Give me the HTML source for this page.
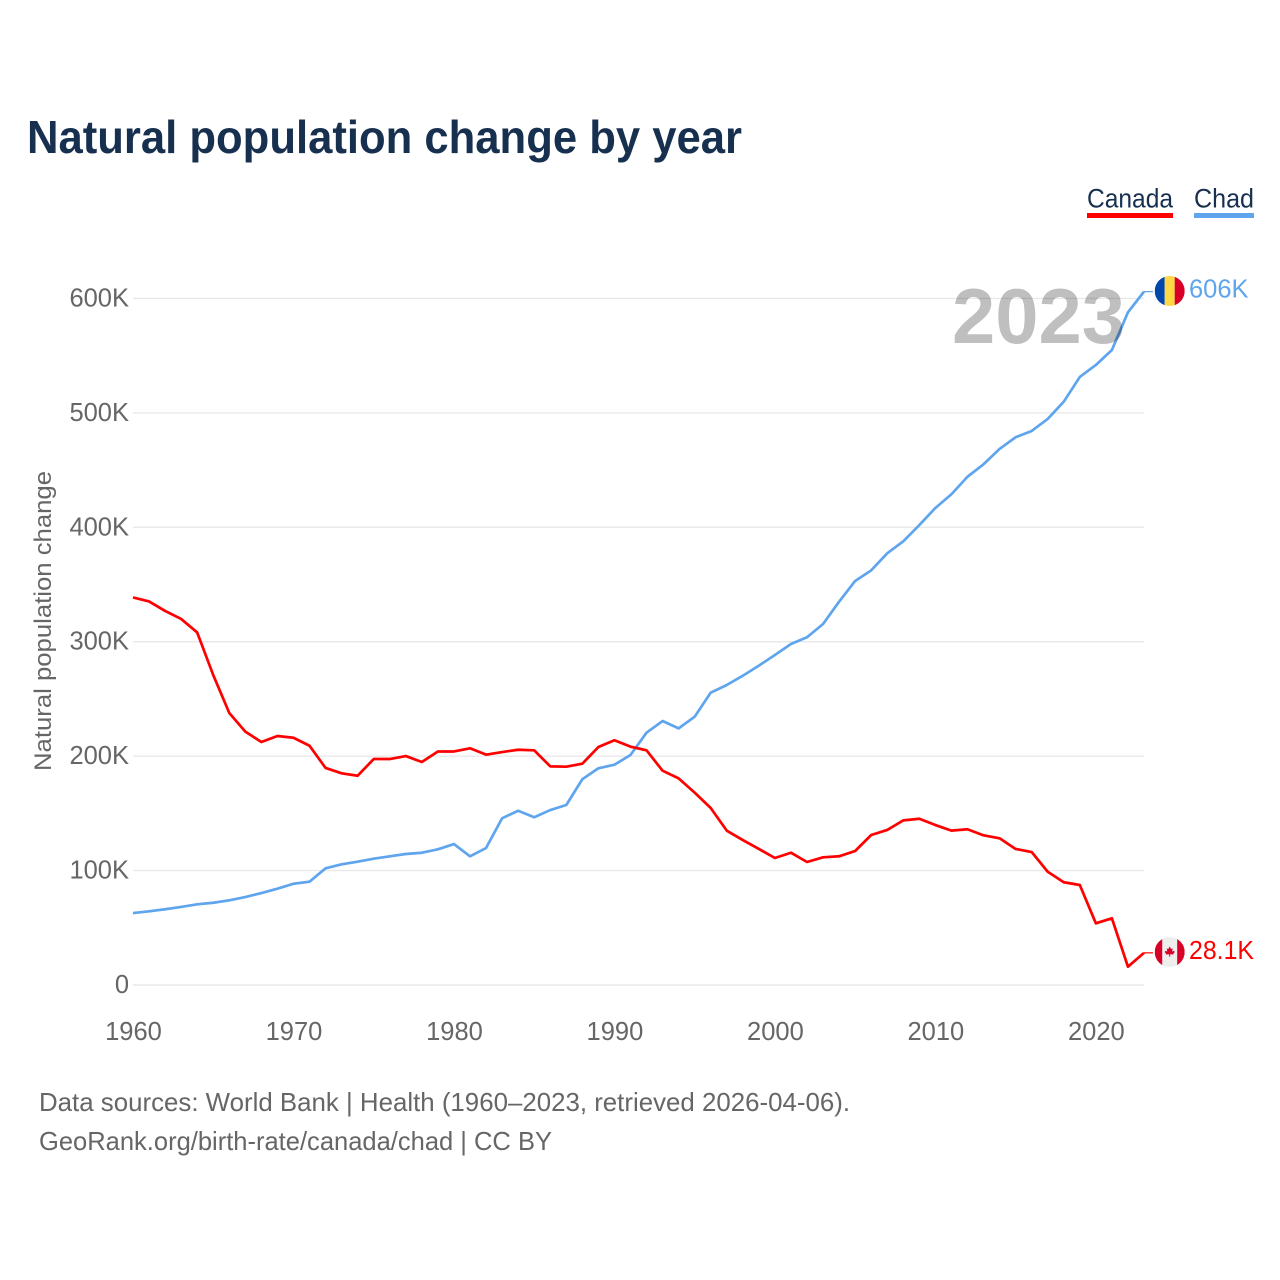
<!DOCTYPE html>
<html lang="en">
<head>
<meta charset="utf-8">
<title>Natural population change by year</title>
<style>
html,body{margin:0;padding:0;background:#fff;width:1280px;height:1280px;overflow:hidden}
svg{display:block;font-family:"Liberation Sans",sans-serif}
</style>
</head>
<body>
<svg id="chart" xmlns="http://www.w3.org/2000/svg" width="1280" height="1280" viewBox="0 0 1280 1280">
  <text x="27" y="153" font-size="46" font-weight="700" fill="#18304f" textLength="715" lengthAdjust="spacingAndGlyphs">Natural population change by year</text>

  <g>
    <g>
      <text x="1087" y="207.5" font-size="26.5" fill="#18304f" textLength="86" lengthAdjust="spacingAndGlyphs">Canada</text>
      <rect x="1087" y="213" width="86" height="5" fill="#ff0000"/>
    </g>
    <g>
      <text x="1194" y="207.5" font-size="26.5" fill="#18304f" textLength="60" lengthAdjust="spacingAndGlyphs">Chad</text>
      <rect x="1194" y="213" width="60" height="5" fill="#5fa5ee"/>
    </g>
  </g>

  <g id="grid"></g>
  <g id="yticks"></g>
  <g id="xticks"></g>

  <text transform="translate(51,771) rotate(-90)" x="0" y="0" font-size="24" fill="#666666" textLength="300" lengthAdjust="spacingAndGlyphs">Natural population change</text>

  <g id="series"></g>

  <text x="952" y="343" font-size="78" font-weight="700" fill="#000000" fill-opacity="0.25" textLength="173" lengthAdjust="spacingAndGlyphs">2023</text>

  <defs>
    <clipPath id="flag-clip"><circle cx="0" cy="0" r="15"/></clipPath>
  </defs>

  <g id="flag-chad">
    <g clip-path="url(#flag-clip)">
      <rect x="-15" y="-15" width="10" height="30" fill="#0047ab"/>
      <rect x="-5" y="-15" width="10" height="30" fill="#ffd644"/>
      <rect x="5" y="-15" width="10" height="30" fill="#d80027"/>
    </g>
  </g>
  <g id="flag-canada">
    <g clip-path="url(#flag-clip)">
      <rect x="-15" y="-15" width="30" height="30" fill="#eeeeee"/>
      <rect x="-15" y="-15" width="7.5" height="30" fill="#d80027"/>
      <rect x="7.5" y="-15" width="7.5" height="30" fill="#d80027"/>
      <path d="M0,-5.5 L1.4,-3 L3,-3.6 L2.4,-0.6 L4.6,-1.2 L5,0.2 L3.6,1.4 L4,2.4 L0.5,2.2 L0.5,4.6 L-0.5,4.6 L-0.5,2.2 L-4,2.4 L-3.6,1.4 L-5,0.2 L-4.6,-1.2 L-2.4,-0.6 L-3,-3.6 L-1.4,-3 Z" fill="#d80027"/>
    </g>
  </g>

  <g id="end-labels"></g>

  <text x="39" y="1111" font-size="26" fill="#666666" textLength="811" lengthAdjust="spacingAndGlyphs">Data sources: World Bank | Health (1960–2023, retrieved 2026-04-06).</text>
  <text x="39" y="1150" font-size="26" fill="#666666" textLength="513" lengthAdjust="spacingAndGlyphs">GeoRank.org/birth-rate/canada/chad | CC BY</text>
</svg>

<script>
const firstYear = 1960;
const lastYear = 2023;
const yTickValues = [0, 100, 200, 300, 400, 500, 600];
const yTickLabels = ["0", "100K", "200K", "300K", "400K", "500K", "600K"];
const xTickYears = [1960, 1970, 1980, 1990, 2000, 2010, 2020];
const canadaValues = [
  338.7, 335.2, 326.9, 319.9, 308.1, 270.9, 237.7, 221.4, 212.4, 217.6,
  216.1, 209.1, 189.7, 185.0, 182.9, 197.5, 197.5, 200.1, 194.9, 204.1,
  204.1, 206.9, 201.3, 203.6, 205.6, 205.1, 191.1, 190.8, 193.4, 208.0,
  213.9, 208.3, 205.1, 187.3, 180.6, 168.1, 154.7, 134.9, 126.7, 118.9,
  111.0, 115.6, 107.5, 111.6, 112.5, 117.1, 131.1, 135.5, 143.9, 145.3,
  139.8, 134.9, 136.1, 130.8, 128.2, 118.9, 116.2, 99.0, 89.8, 87.4,
  53.9, 58.3, 16.0, 28.1
];
const chadValues = [
  62.9, 64.4, 66.2, 68.2, 70.5, 71.9, 74.0, 76.9, 80.4, 84.2,
  88.5, 90.3, 102.0, 105.5, 107.8, 110.4, 112.5, 114.5, 115.6, 118.6,
  123.2, 112.5, 119.7, 145.7, 152.3, 146.6, 152.9, 157.3, 179.8, 189.4,
  192.5, 201.0, 220.5, 230.7, 224.3, 234.5, 255.5, 262.2, 270.3, 279.1,
  288.4, 298.0, 303.9, 315.5, 335.0, 353.1, 362.4, 377.3, 387.8, 402.0,
  416.9, 428.9, 444.2, 455.1, 468.5, 478.7, 484.2, 494.7, 509.8, 531.4,
  541.9, 555.0, 587.9, 606.0
];
const canadaEndLabel = "28.1K";
const chadEndLabel = "606K";

const SVG_NS = "http://www.w3.org/2000/svg";
const plotLeft = 133, plotRight = 1144, zeroY = 985, kiloToPx = 1.1442;
const xScale = function (year) {
  return plotLeft + (year - firstYear) * (plotRight - plotLeft) / (lastYear - firstYear);
};
const yScale = function (value) {
  return zeroY - value * kiloToPx;
};
const make = function (tag, parent) {
  const el = document.createElementNS(SVG_NS, tag);
  parent.appendChild(el);
  return el;
};

const gridGroup = document.getElementById("grid");
const yTickGroup = document.getElementById("yticks");
yTickValues.forEach(function (v, i) {
  const line = make("line", gridGroup);
  
  
  line.setAttribute("x1", plotLeft);
  line.setAttribute("x2", plotRight);
  line.setAttribute("y1", yScale(v));
  line.setAttribute("y2", yScale(v));
  line.setAttribute("stroke", "#e9e9e9");
  line.setAttribute("stroke-width", "1.4");

  const label = make("text", yTickGroup);
  
  
  label.setAttribute("x", 129);
  label.setAttribute("y", yScale(v) + 8);
  label.setAttribute("text-anchor", "end");
  label.setAttribute("font-size", "25.5");
  label.setAttribute("fill", "#666666");
  label.textContent = yTickLabels[i];
});

const xTickGroup = document.getElementById("xticks");
xTickYears.forEach(function (yr) {
  const label = make("text", xTickGroup);
  
  
  label.setAttribute("x", xScale(yr) + 0.5);
  label.setAttribute("y", 1040);
  label.setAttribute("text-anchor", "middle");
  label.setAttribute("font-size", "25.5");
  label.setAttribute("fill", "#666666");
  label.textContent = String(yr);
});

const seriesGroup = document.getElementById("series");
const linePath = function (values) {
  return values.map(function (v, i) {
    return (i ? "L" : "M") + xScale(firstYear + i).toFixed(2) + "," + yScale(v).toFixed(2);
  }).join(" ");
};

const chadLine = make("path", seriesGroup);


chadLine.setAttribute("d", linePath(chadValues));
chadLine.setAttribute("fill", "none");
chadLine.setAttribute("stroke", "#5fa5ee");
chadLine.setAttribute("stroke-width", "2.7");
chadLine.setAttribute("stroke-linejoin", "round");

const canadaLine = make("path", seriesGroup);


canadaLine.setAttribute("d", linePath(canadaValues));
canadaLine.setAttribute("fill", "none");
canadaLine.setAttribute("stroke", "#ff0000");
canadaLine.setAttribute("stroke-width", "2.7");
canadaLine.setAttribute("stroke-linejoin", "round");

const chadEndY = yScale(chadValues[chadValues.length - 1]);
const canadaEndY = yScale(canadaValues[canadaValues.length - 1]);

const chadConnector = make("line", seriesGroup);


chadConnector.setAttribute("x1", plotRight);
chadConnector.setAttribute("x2", 1153);
chadConnector.setAttribute("y1", chadEndY);
chadConnector.setAttribute("y2", chadEndY);
chadConnector.setAttribute("stroke", "#5fa5ee");
chadConnector.setAttribute("stroke-width", "1.2");

const canadaConnector = make("line", seriesGroup);


canadaConnector.setAttribute("x1", plotRight);
canadaConnector.setAttribute("x2", 1153);
canadaConnector.setAttribute("y1", canadaEndY);
canadaConnector.setAttribute("y2", canadaEndY);
canadaConnector.setAttribute("stroke", "#ff0000");
canadaConnector.setAttribute("stroke-width", "1.2");

document.getElementById("flag-chad").setAttribute("transform", "translate(1169.7," + (chadEndY - 0.6) + ")");
document.getElementById("flag-canada").setAttribute("transform", "translate(1169.7," + (canadaEndY - 0.8) + ")");

const endGroup = document.getElementById("end-labels");

const chadEnd = make("text", endGroup);


chadEnd.setAttribute("x", 1189);
chadEnd.setAttribute("y", chadEndY + 6);
chadEnd.setAttribute("font-size", "25.5");
chadEnd.setAttribute("fill", "#5fa5ee");
chadEnd.textContent = chadEndLabel;

const canadaEnd = make("text", endGroup);


canadaEnd.setAttribute("x", 1189);
canadaEnd.setAttribute("y", canadaEndY + 6);
canadaEnd.setAttribute("font-size", "25.5");
canadaEnd.setAttribute("fill", "#ff0000");
canadaEnd.setAttribute("textLength", "65");
canadaEnd.setAttribute("lengthAdjust", "spacingAndGlyphs");
canadaEnd.textContent = canadaEndLabel;
</script>
</body>
</html>
